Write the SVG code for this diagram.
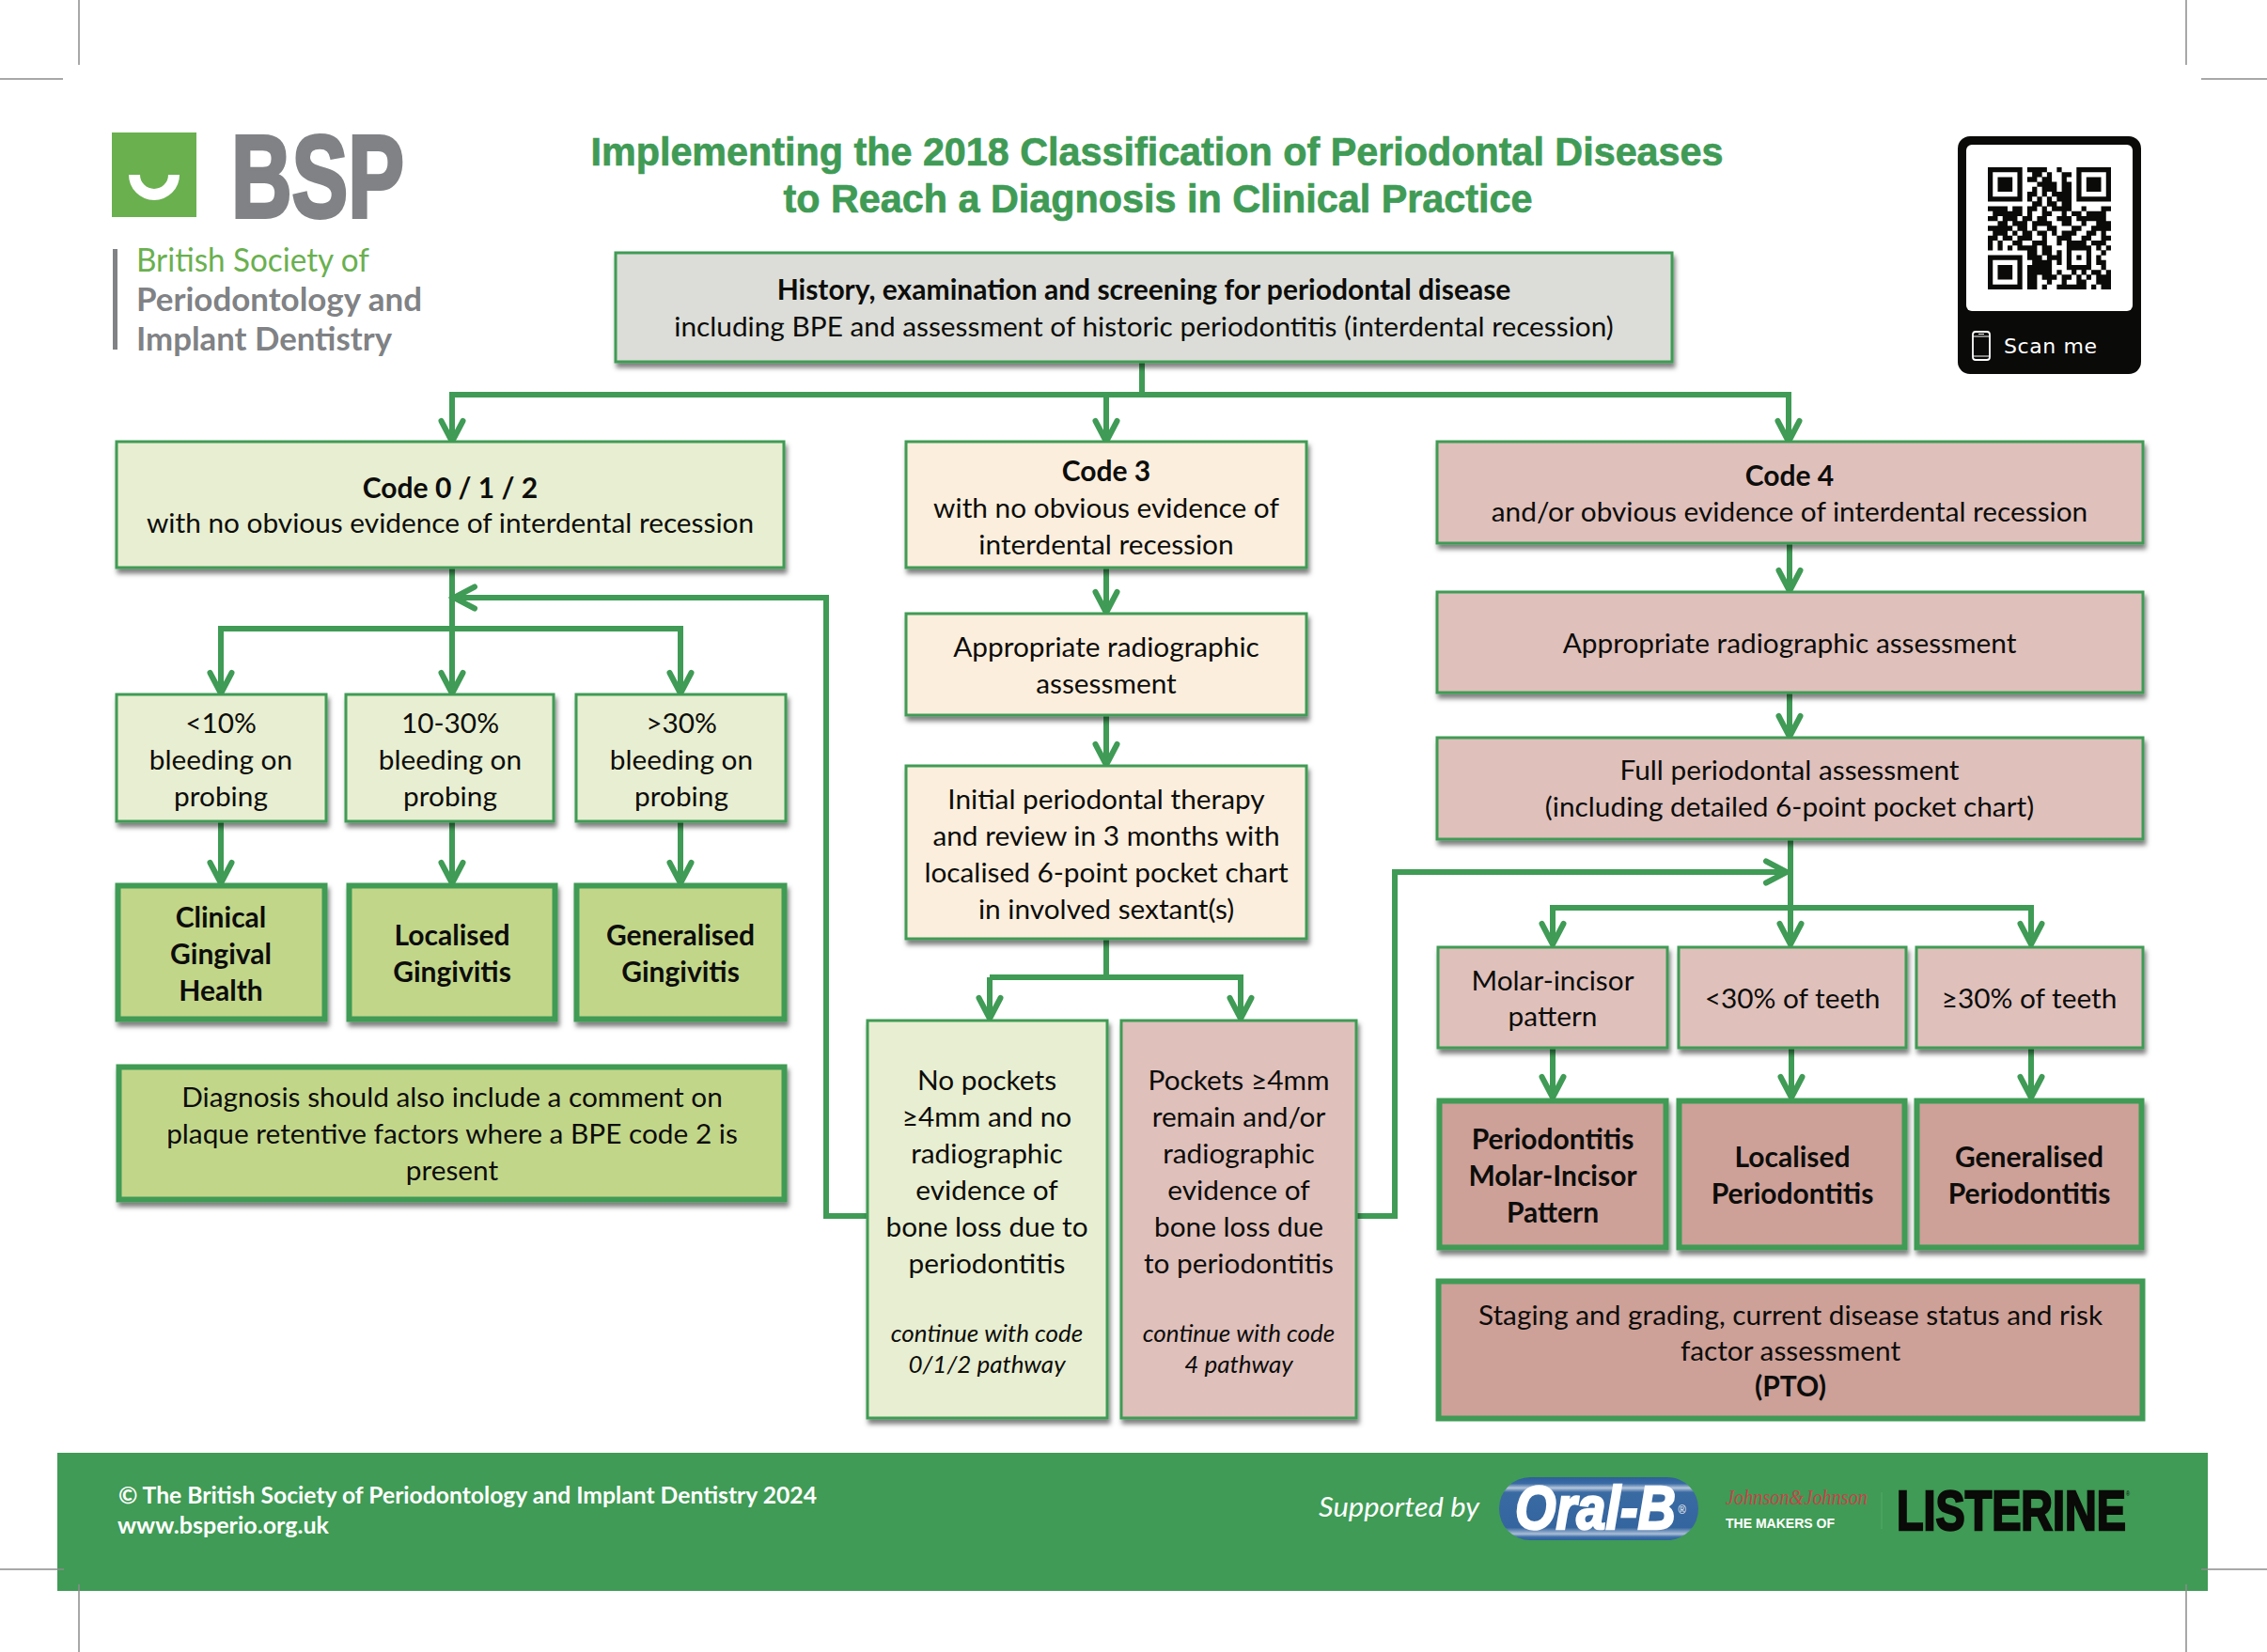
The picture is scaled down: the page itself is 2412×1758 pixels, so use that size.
<svg xmlns="http://www.w3.org/2000/svg" width="2412" height="1758" viewBox="0 0 2412 1758">
<defs>
<style>
text{font-family:"Lato","Carlito","Liberation Sans",sans-serif;fill:#0d0d0b}
.t{font-size:29.800px;text-anchor:middle;transform:translateY(.5px)}
.b{font-size:30px;font-weight:700;text-anchor:middle;transform:translateY(.5px)}
.i{font-size:26px;font-style:italic;text-anchor:middle;transform:translateY(.5px)}
.box{stroke:#3f9b55;stroke-width:3}
.heavy{stroke:#3f9b55;stroke-width:6}
.sh{filter:url(#s)}
.grey{fill:#dcddd8}.lg{fill:#e8eed1}.pe{fill:#fbeedd}.pk{fill:#dfc0bb}.dg{fill:#c2d68a}.dp{fill:#cda098}
.crop{stroke:#8c8c8c;stroke-width:1.500;fill:none}
.c{fill:none;stroke:#3f9b55;stroke-width:6}
.a{marker-end:url(#arr)}
.title{font-family:"Liberation Sans",sans-serif;font-weight:700;font-size:42px;fill:#3f9b55;stroke:#3f9b55;stroke-width:.7;text-anchor:middle}
.logo2{font-size:34px;font-weight:700;fill:#808285}
.w{fill:#fff;font-weight:700;font-size:25px}
</style>
<filter id="s" x="-5%" y="-10%" width="110%" height="125%"><feDropShadow dx="2" dy="5" stdDeviation="2.500" flood-color="#000" flood-opacity=".5"/></filter>
<marker id="arr" markerUnits="userSpaceOnUse" markerWidth="44" markerHeight="44" refX="26" refY="22" orient="auto"><path d="M8 10.500L30 22L8 33.500" fill="none" stroke="#3f9b55" stroke-width="6" stroke-linecap="round"/></marker>
<linearGradient id="ob" x1="0" y1="0" x2="0" y2="1"><stop offset="0" stop-color="#2f5f9c"/><stop offset=".1" stop-color="#3a6ba5"/><stop offset=".17" stop-color="#b5c6db"/><stop offset=".24" stop-color="#3a6aa2"/><stop offset=".8" stop-color="#35659f"/><stop offset=".9" stop-color="#a9bdd6"/><stop offset=".95" stop-color="#3e6fa8"/><stop offset="1" stop-color="#2f5f9c"/></linearGradient>
</defs>
<rect width="2412" height="1758" fill="#fff"/>
<g id="crop-marks">
<path class="crop" d="M84 0V69M0 84H67M2326 0V69M2342 84H2412"/>
</g>
<g id="footer-band"><rect x="61" y="1546" width="2288" height="147" fill="#3f9b55"/></g>
<path class="crop" d="M0 1670H68M84 1686V1758M2342 1670H2412M2326 1686V1758"/>

<g id="logo">
<rect x="119" y="141" width="90" height="90" fill="#6ab04f"/>
<path d="M143 186a21 21 0 0 0 42 0" fill="none" stroke="#fff" stroke-width="12"/>
<text x="246" y="231" font-size="124" font-weight="700" style="font-family:'Liberation Sans',sans-serif;fill:#808285;stroke:#808285;stroke-width:4" textLength="184" lengthAdjust="spacingAndGlyphs">BSP</text>
<rect x="120" y="265" width="5" height="107" fill="#808285"/>
<text x="145" y="288.500" font-size="34" style="fill:#6ab04f" textLength="248" lengthAdjust="spacingAndGlyphs">British Society of</text>
<text class="logo2" x="145" y="331" textLength="304" lengthAdjust="spacingAndGlyphs">Periodontology and</text>
<text class="logo2" x="145" y="373" textLength="272" lengthAdjust="spacingAndGlyphs">Implant Dentistry</text>
</g>

<g id="title">
<text class="title" x="1231" y="176" textLength="1205" lengthAdjust="spacingAndGlyphs">Implementing the 2018 Classification of Periodontal Diseases</text>
<text class="title" x="1232" y="226" textLength="797" lengthAdjust="spacingAndGlyphs">to Reach a Diagnosis in Clinical Practice</text>
</g>

<g id="qr">
<rect x="2083" y="145" width="195" height="253" rx="13" fill="#0a0a08"/>
<rect x="2092" y="154" width="177" height="177" rx="6" fill="#fff"/>
<g transform="translate(2115 178) scale(5.240 5.200)">
<path fill="#0a0a08" fill-rule="evenodd" d="M0 0h7v7h-7zM1 1v5h5v-5zM2 2h3v3h-3zM18 0h7v7h-7zM19 1v5h5v-5zM20 2h3v3h-3zM0 18h7v7h-7zM1 19v5h5v-5zM2 20h3v3h-3z"/>
<path fill="none" stroke="#0a0a08" stroke-width="1.020" d="M8 .5h4M14 .5h1M9 1.500h2M12 1.500h1M15 1.500h2M8 2.500h2M11 2.500h2M15 2.500h1M10 3.500h3M13 3.500h1M15 3.500h2M9 4.500h1M11 4.500h3M15 4.500h2M8 5.500h2M11 5.500h1M13 5.500h4M8 6.500h1M10 6.500h1M12 6.500h1M14 6.500h3M9 7.500h2M12 7.500h2M15 7.500h2M0 8.500h4M5 8.500h2M8 8.500h2M11 8.500h1M13 8.500h4M19 8.500h1M23 8.500h2M1 9.500h6M8 9.500h1M11 9.500h2M15 9.500h1M17 9.500h2M20 9.500h4M0 10.500h2M3 10.500h3M7 10.500h2M10 10.500h2M14 10.500h3M18 10.500h6M2 11.500h2M5 11.500h3M9 11.500h4M15 11.500h2M19 11.500h1M22 11.500h3M0 12.500h5M6 12.500h2M9 12.500h1M12 12.500h2M17 12.500h2M21 12.500h4M1 13.500h3M5 13.500h1M7 13.500h2M10 13.500h2M13 13.500h1M15 13.500h3M20 13.500h2M23 13.500h1M0 14.500h2M3 14.500h2M6 14.500h3M11 14.500h1M14 14.500h3M19 14.500h2M23 14.500h2M0 15.500h1M2 15.500h1M5 15.500h2M9 15.500h3M14 15.500h1M16 15.500h4M21 15.500h3M0 16.500h1M2 16.500h1M4 16.500h1M6 16.500h4M11 16.500h2M16 16.500h5M22 16.500h1M24 16.500h1M8 17.500h2M11 17.500h2M14 17.500h1M16 17.500h1M20 17.500h1M23 17.500h1M8 18.500h3M12 18.500h3M16 18.500h1M18 18.500h1M20 18.500h1M22 18.500h1M9 19.500h4M14 19.500h1M16 19.500h1M20 19.500h1M22 19.500h2M8 20.500h5M16 20.500h5M23 20.500h1M8 21.500h5M14 21.500h1M17 21.500h1M19 21.500h1M21 21.500h2M24 21.500h1M8 22.500h2M11 22.500h3M15 22.500h2M18 22.500h1M20 22.500h1M22 22.500h3M8 23.500h2M12 23.500h1M15 23.500h1M18 23.500h2M22 23.500h3M8 24.500h2M11 24.500h1M14 24.500h2M16 24.500h4M21 24.500h1M23 24.500h2"/>
</g>
<rect x="2099" y="353" width="18" height="30" rx="3" fill="none" stroke="#fff" stroke-width="1.800"/>
<path d="M2099 358h18M2099 379h18M2105 355.500h6" stroke="#fff" stroke-width="1.200" fill="none"/>
<text x="2132" y="376" font-size="22" style="font-family:'DejaVu Sans',sans-serif;fill:#fff" textLength="99">Scan me</text>
</g>

<g id="connectors">
<path class="c" d="M1215 386V420"/>
<path class="c a" d="M1903 420H481V466"/>
<path class="c a" d="M481 420H1903V466"/>
<path class="c a" d="M1177 420V466"/>
<path class="c" d="M481 605V669"/>
<path class="c a" d="M235 734V669H724V734"/>
<path class="c a" d="M235 669V734"/>
<path class="c a" d="M481 669V734"/>
<path class="c a" d="M235 875V936"/>
<path class="c a" d="M481 875V936"/>
<path class="c a" d="M724 875V936"/>
<path class="c a" d="M922 1294H879V636H487"/>
<path class="c a" d="M1177 605V648"/>
<path class="c a" d="M1177 762V810"/>
<path class="c" d="M1177 1000V1040"/>
<path class="c a" d="M1053 1040H1320V1080"/>
<path class="c a" d="M1053 1040V1080"/>
<path class="c a" d="M1444 1294H1484V928H1897"/>
<path class="c a" d="M1904 579V625"/>
<path class="c a" d="M1904 738V780"/>
<path class="c" d="M1905 894V966"/>
<path class="c a" d="M1652 1001V966H2161V1001"/>
<path class="c a" d="M1652 966V1001"/>
<path class="c a" d="M1905 966V1001"/>
<path class="c a" d="M1652 1116V1164"/>
<path class="c a" d="M1906 1116V1164"/>
<path class="c a" d="M2161 1116V1164"/>
</g>

<g id="n-history"><rect class="box sh grey" x="655" y="269" width="1124" height="116"/>
<text class="b" x="1217" y="318">History, examination and screening for periodontal disease</text>
<text class="t" x="1217" y="357">including BPE and assessment of historic periodontitis (interdental recession)</text></g>

<g id="n-code012"><rect class="box sh lg" x="124" y="470" width="710" height="134"/>
<text class="b" x="479" y="529">Code 0 / 1 / 2</text>
<text class="t" x="479" y="566">with no obvious evidence of interdental recession</text></g>
<g id="n-code3"><rect class="box sh pe" x="964" y="470" width="426" height="134"/>
<text class="b" x="1177" y="511">Code 3</text>
<text class="t" x="1177" y="550">with no obvious evidence of</text>
<text class="t" x="1177" y="589">interdental recession</text></g>
<g id="n-code4"><rect class="box sh pk" x="1529" y="470" width="751" height="108"/>
<text class="b" x="1904" y="516">Code 4</text>
<text class="t" x="1904" y="554">and/or obvious evidence of interdental recession</text></g>

<g id="n-bop1"><rect class="box sh lg" x="124" y="739" width="223" height="135"/>
<text class="t" x="235" y="779">&lt;10%</text><text class="t" x="235" y="818">bleeding on</text><text class="t" x="235" y="857">probing</text></g>
<g id="n-bop2"><rect class="box sh lg" x="368" y="739" width="221" height="135"/>
<text class="t" x="479" y="779">10-30%</text><text class="t" x="479" y="818">bleeding on</text><text class="t" x="479" y="857">probing</text></g>
<g id="n-bop3"><rect class="box sh lg" x="613" y="739" width="223" height="135"/>
<text class="t" x="725" y="779">&gt;30%</text><text class="t" x="725" y="818">bleeding on</text><text class="t" x="725" y="857">probing</text></g>

<g id="n-health"><rect class="heavy sh dg" x="125.500" y="942.500" width="220" height="142"/>
<text class="b" x="235" y="986">Clinical</text><text class="b" x="235" y="1025">Gingival</text><text class="b" x="235" y="1064">Health</text></g>
<g id="n-locging"><rect class="heavy sh dg" x="371.500" y="942.500" width="219" height="142"/>
<text class="b" x="481" y="1005">Localised</text><text class="b" x="481" y="1044">Gingivitis</text></g>
<g id="n-genging"><rect class="heavy sh dg" x="613.500" y="942.500" width="221" height="142"/>
<text class="b" x="724" y="1005">Generalised</text><text class="b" x="724" y="1044">Gingivitis</text></g>
<g id="n-diagnosis"><rect class="heavy sh dg" x="126.500" y="1135.500" width="708" height="141"/>
<text class="t" x="481" y="1177">Diagnosis should also include a comment on</text>
<text class="t" x="481" y="1216">plaque retentive factors where a BPE code 2 is</text>
<text class="t" x="481" y="1255">present</text></g>

<g id="n-radio3"><rect class="box sh pe" x="964" y="653" width="426" height="108"/>
<text class="t" x="1177" y="698">Appropriate radiographic</text><text class="t" x="1177" y="737">assessment</text></g>
<g id="n-initial"><rect class="box sh pe" x="964" y="815" width="426" height="184"/>
<text class="t" x="1177" y="860">Initial periodontal therapy</text>
<text class="t" x="1177" y="899">and review in 3 months with</text>
<text class="t" x="1177" y="938">localised 6-point pocket chart</text>
<text class="t" x="1177" y="977">in involved sextant(s)</text></g>
<g id="n-nopockets"><rect class="box sh lg" x="923" y="1086" width="255" height="423"/>
<text class="t" x="1050" y="1159">No pockets</text><text class="t" x="1050" y="1198">≥4mm and no</text><text class="t" x="1050" y="1237">radiographic</text><text class="t" x="1050" y="1276">evidence of</text><text class="t" x="1050" y="1315">bone loss due to</text><text class="t" x="1050" y="1354">periodontitis</text>
<text class="i" x="1050" y="1427">continue with code</text><text class="i" x="1050" y="1460">0/1/2 pathway</text></g>
<g id="n-pockets"><rect class="box sh pk" x="1193" y="1086" width="250" height="423"/>
<text class="t" x="1318" y="1159">Pockets ≥4mm</text><text class="t" x="1318" y="1198">remain and/or</text><text class="t" x="1318" y="1237">radiographic</text><text class="t" x="1318" y="1276">evidence of</text><text class="t" x="1318" y="1315">bone loss due</text><text class="t" x="1318" y="1354">to periodontitis</text>
<text class="i" x="1318" y="1427">continue with code</text><text class="i" x="1318" y="1460">4 pathway</text></g>

<g id="n-radio4"><rect class="box sh pk" x="1529" y="630" width="751" height="107"/>
<text class="t" x="1904" y="694">Appropriate radiographic assessment</text></g>
<g id="n-full"><rect class="box sh pk" x="1529" y="785" width="751" height="108"/>
<text class="t" x="1904" y="829">Full periodontal assessment</text><text class="t" x="1904" y="868">(including detailed 6-point pocket chart)</text></g>
<g id="n-mip"><rect class="box sh pk" x="1530" y="1008" width="244" height="107"/>
<text class="t" x="1652" y="1053">Molar-incisor</text><text class="t" x="1652" y="1091">pattern</text></g>
<g id="n-lt30"><rect class="box sh pk" x="1786" y="1008" width="242" height="107"/>
<text class="t" x="1907" y="1072">&lt;30% of teeth</text></g>
<g id="n-ge30"><rect class="box sh pk" x="2039" y="1008" width="241" height="107"/>
<text class="t" x="2159" y="1072">≥30% of teeth</text></g>
<g id="n-perio-mip"><rect class="heavy sh dp" x="1531.500" y="1171.500" width="241" height="156"/>
<text class="b" x="1652" y="1222">Periodontitis</text><text class="b" x="1652" y="1261">Molar-Incisor</text><text class="b" x="1652" y="1300">Pattern</text></g>
<g id="n-perio-loc"><rect class="heavy sh dp" x="1786.500" y="1171.500" width="240" height="156"/>
<text class="b" x="1907" y="1241">Localised</text><text class="b" x="1907" y="1280">Periodontitis</text></g>
<g id="n-perio-gen"><rect class="heavy sh dp" x="2039.500" y="1171.500" width="239" height="156"/>
<text class="b" x="2159" y="1241">Generalised</text><text class="b" x="2159" y="1280">Periodontitis</text></g>
<g id="n-staging"><rect class="heavy dp" x="1530.500" y="1363.500" width="749" height="146"/>
<text class="t" x="1905" y="1409">Staging and grading, current disease status and risk</text>
<text class="t" x="1905" y="1447">factor assessment</text>
<text class="b" x="1905" y="1485">(PTO)</text></g>

<g id="footer">
<text class="w" x="126" y="1599.500" textLength="743" lengthAdjust="spacingAndGlyphs">© The British Society of Periodontology and Implant Dentistry 2024</text>
<text class="w" x="125" y="1632" textLength="225" lengthAdjust="spacingAndGlyphs">www.bsperio.org.uk</text>
<text x="1403" y="1614" font-size="29" font-style="italic" style="fill:#fff" textLength="171" lengthAdjust="spacingAndGlyphs">Supported by</text>
<rect x="1595" y="1572" width="212" height="67" rx="33" fill="url(#ob)"/>
<text x="1612" y="1627" font-size="64" font-weight="700" font-style="italic" style="font-family:'Liberation Sans',sans-serif;fill:#fff;stroke:#fff;stroke-width:2.500" textLength="182" lengthAdjust="spacingAndGlyphs">Oral-B<tspan dx="3" dy="-16" font-size="13" font-weight="400" font-style="normal" style="stroke:none">®</tspan></text>
<text x="1836" y="1601" font-size="24" font-style="italic" style="font-family:'Liberation Serif',serif;fill:#c9434a" textLength="151" lengthAdjust="spacingAndGlyphs">Johnson&amp;Johnson</text>
<text x="1836" y="1626" font-size="14.500" font-weight="700" style="font-family:'Liberation Sans',sans-serif;fill:#fff" textLength="116" lengthAdjust="spacingAndGlyphs">THE MAKERS OF</text>
<path d="M2002 1588V1627" stroke="#5aa76c" stroke-width="1"/>
<text x="2018" y="1628" font-size="60" font-weight="700" style="font-family:'Liberation Sans',sans-serif;fill:#0a0a08;stroke:#0a0a08;stroke-width:2.500" textLength="248" lengthAdjust="spacingAndGlyphs">LISTERINE<tspan dy="-36" font-size="7" font-weight="400" style="stroke:none">®</tspan></text>
</g>
</svg>
